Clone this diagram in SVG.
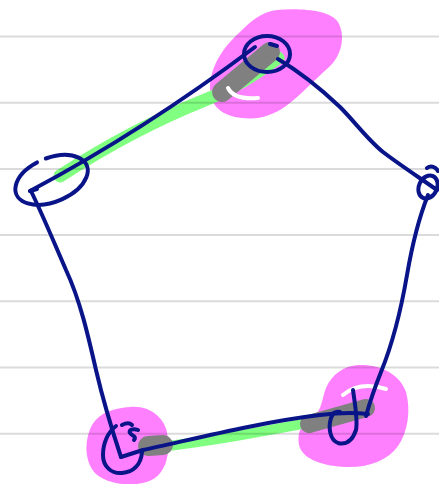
<svg xmlns="http://www.w3.org/2000/svg" width="439" height="484" viewBox="0 0 439 484">
  <style>
    .paper { stroke: #000; stroke-opacity: 0.14; stroke-width: 2; fill: none; }
    .pink { fill: #ff80ff; stroke: none; }
    .green { fill: none; stroke: #80ff80; stroke-linecap: round; stroke-linejoin: round; }
    .gray { fill: none; stroke: #808080; stroke-linecap: round; stroke-linejoin: round; }
    .gap { fill: none; stroke: #ffffff; stroke-width: 4; stroke-linecap: round; }
    .ink { fill: none; stroke: #081488; stroke-width: 4; stroke-linecap: round; stroke-linejoin: round; }
  </style>
  <rect width="439" height="484" fill="#ffffff"/>

  <!-- highlighter marks under the ink -->
  <g id="highlights">
    <path class="pink" d="M277,10 C300,8 330,10 338,22 C346,36 342,56 328,68 C312,82 300,96 286,106 C272,116 258,120 242,118 C222,116 210,106 210,88 C210,68 222,48 240,32 C252,20 262,12 277,10 Z"/>
    <path class="pink" d="M130,407 C150,405 164,418 167,432 C170,450 168,468 155,478 C140,488 110,486 96,474 C84,462 84,440 92,425 C100,412 115,408 130,407 Z"/>
    <path class="pink" d="M358,365 C380,364 400,374 406,392 C411,410 408,432 398,446 C388,460 370,467 350,467 C330,467 306,462 300,448 C296,436 300,422 314,416 C322,410 322,398 326,388 C332,374 344,366 358,365 Z"/>
    <path class="green" stroke-width="13" d="M60,176 C100,150 150,122 205,100 C235,88 258,72 278,58"/>
    <path class="green" stroke-width="10" d="M160,447 C220,440 270,430 362,413"/>
    <path class="gray" stroke-width="20" d="M222,92 L270,52"/>
    <path class="gray" stroke-width="20" d="M148,446 L163,445"/>
    <path class="gray" stroke-width="18" d="M309,424 L366,408"/>
    <path class="gap" d="M228,88 Q234,100 258,98"/>
    <path class="gap" d="M343,395 Q360,381 386,389"/>
  </g>

  <!-- ruled paper lines -->
  <g id="paper">
    <line class="paper" x1="0" y1="36.5" x2="439" y2="36.5"/>
    <line class="paper" x1="0" y1="102.7" x2="439" y2="102.7"/>
    <line class="paper" x1="0" y1="168.9" x2="439" y2="168.9"/>
    <line class="paper" x1="0" y1="235.1" x2="439" y2="235.1"/>
    <line class="paper" x1="0" y1="301.3" x2="439" y2="301.3"/>
    <line class="paper" x1="0" y1="367.5" x2="439" y2="367.5"/>
    <line class="paper" x1="0" y1="433.7" x2="439" y2="433.7"/>
  </g>

  <g id="connectors">
    <path class="ink" d="M30,191 Q143,131 255,47"/>
    <path class="ink" d="M278,59 C300,72 320,88 340,107 C355,122 368,140 383,152 C400,165 420,178 437,190"/>
    <path class="ink" d="M428,195 C420,215 413,240 407,275 C401,310 392,345 381,372 C373,392 369,405 366,416"/>
    <path class="ink" d="M121,457 L143,450 C190,440 260,422 320,415 C345,412 358,413 368,414"/>
    <path class="ink" d="M31,191 C45,220 55,245 66,270 C80,300 88,335 96,370 C103,400 112,430 121,457"/>
  </g>

  <g id="node-top">
    <ellipse class="ink" cx="267" cy="54" rx="23" ry="18"/>
    <path class="ink" d="M270,44 L277,46"/>
  </g>

  <g id="node-left">
    <path class="ink" d="M37,162.4 A38,22 -22 1 0 45.8,158.5"/>
    <path class="ink" d="M30,191 L37,189"/>
  </g>

  <g id="node-right">
    <ellipse class="ink" cx="428" cy="187" rx="9" ry="12" transform="rotate(25 428 187)"/>
    <path class="ink" d="M427,168 C431,165 436,167 438,171"/>
  </g>

  <g id="node-bottom-left">
    <path class="ink" d="M116,426 C108,432 103,443 103,455 C103,467 112,474 122,473 C133,472 141,465 142,452"/>
    <path class="ink" d="M122,425 C126,423 130,423 132,425"/>
    <path class="ink" d="M138,430 C133,428 128,430 130,433 C132,436 137,436 134,440"/>
  </g>

  <g id="node-bottom-right">
    <path class="ink" d="M353,390 C355,405 358,420 356,430 C352,442 345,445 338,443 C330,440 328,428 331,418 C333,412 337,411 340,412"/>
  </g>
</svg>
